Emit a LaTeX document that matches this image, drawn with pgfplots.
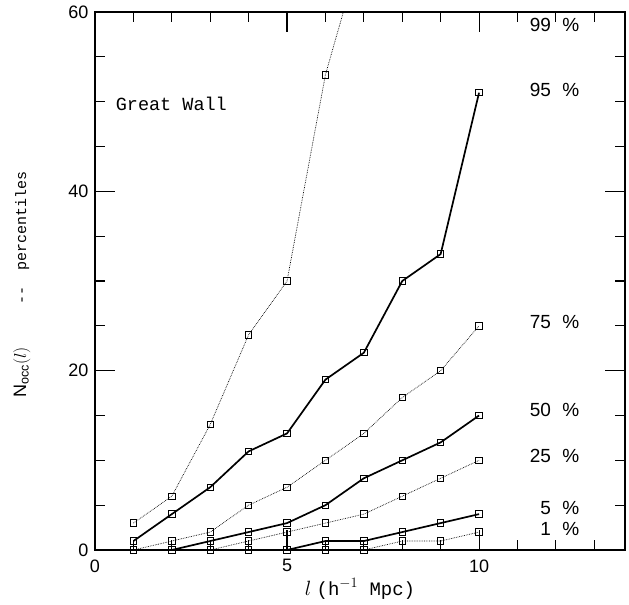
\documentclass[border=0pt]{standalone}
\usepackage{fontspec}
\setmainfont{Liberation Sans}
\setmonofont{Liberation Mono}
\usepackage{pgfplots}
\usepackage{pgfplotstable}
\pgfplotsset{compat=1.18}

% percentiles of N_occ(l), Great Wall
\pgfplotstableread{
l  p99 p95 p75 p50 p25 p05 p01
1   3   1   0   0   0   0   0
2   6   4   1   0   0   0   0
3  14   7   2   1   0   0   0
4  24  11   5   2   1   0   0
5  30  13   7   3   2   0   0
6  53  19  10   5   3   1   0
7  68  22  13   8   4   1   0
8  nan 30  17  10   6   2   1
9  nan 33  20  12   8   3   1
10 nan 51  25  15  10   4   2
}\pct

\begin{document}
\begin{tikzpicture}
\begin{axis}[
  at={(0,0)}, anchor=south west,
  scale only axis,
  width=530bp, height=538bp,
  xmin=0, xmax=13.8,
  ymin=0, ymax=60,
  xtick={0,5,10},
  ytick={0,20,40,60},
  minor xtick={1,2,3,4,6,7,8,9,11,12,13},
  minor ytick={5,10,15,25,30,35,45,50,55},
  xtick pos=both, ytick pos=both,
  xticklabel pos=lower, yticklabel pos=left,
  tick align=inside,
  major tick length=20bp,
  minor tick length=10bp,
  axis line style={line width=1.2bp},
  every tick/.style={black, line width=1.1bp},
  /pgf/number format/assume math mode=true,
  tick label style={font=\fontsize{18bp}{21bp}\selectfont},
  xticklabel style={yshift=-6bp},
  yticklabel style={xshift=-3bp},
  xlabel={$l$ {\ttfamily(h$^{-1}$ Mpc)}},
  xlabel style={font=\fontsize{19bp}{22bp}\selectfont, at={(axis description cs:0.5,-0.072)}, anchor=center},
  ylabel={{\fontsize{18bp}{21bp}\selectfont$\mathrm{N_{occ}}(l)$}\hspace{42bp}{\ttfamily\fontsize{15bp}{18bp}\selectfont --\hspace{16bp}percentiles}},
  ylabel style={at={(axis description cs:-0.138,0.493)}, anchor=center},
  mark options={solid, line width=0.9bp},
  clip=true,
]
\addplot[black, densely dotted, line width=0.7bp, mark=square, mark size=3.2bp] table[x=l, y=p99] {\pct};
\addplot[black, line width=1.7bp, mark=square, mark size=3.2bp] table[x=l, y=p95] {\pct};
\addplot[black, densely dotted, line width=0.7bp, mark=square, mark size=3.2bp] table[x=l, y=p75] {\pct};
\addplot[black, line width=1.7bp, mark=square, mark size=3.2bp] table[x=l, y=p50] {\pct};
\addplot[black, densely dotted, line width=0.7bp, mark=square, mark size=3.2bp] table[x=l, y=p25] {\pct};
\addplot[black, line width=1.7bp, mark=square, mark size=3.2bp] table[x=l, y=p05] {\pct};
\addplot[black, densely dotted, line width=0.7bp, mark=square, mark size=3.2bp] table[x=l, y=p01] {\pct};

\node[anchor=west, font=\ttfamily\fontsize{18.5bp}{22bp}\selectfont] at (axis cs:0.45,49.7) {Great Wall};
\begin{scope}[every node/.style={anchor=east, font=\fontsize{19bp}{22bp}\selectfont}]
\node at (axis cs:12.7,58.6) {99\hspace{0.6em}\%};
\node at (axis cs:12.7,51.3) {95\hspace{0.6em}\%};
\node at (axis cs:12.7,25.4) {75\hspace{0.6em}\%};
\node at (axis cs:12.7,15.6) {50\hspace{0.6em}\%};
\node at (axis cs:12.7,10.5) {25\hspace{0.6em}\%};
\node at (axis cs:12.7,4.7) {5\hspace{0.6em}\%};
\node at (axis cs:12.7,2.4) {1\hspace{0.6em}\%};
\end{scope}
\end{axis}
\pgfresetboundingbox
\path (-95bp,-55bp) rectangle (534bp,550bp);
\end{tikzpicture}
\end{document}
